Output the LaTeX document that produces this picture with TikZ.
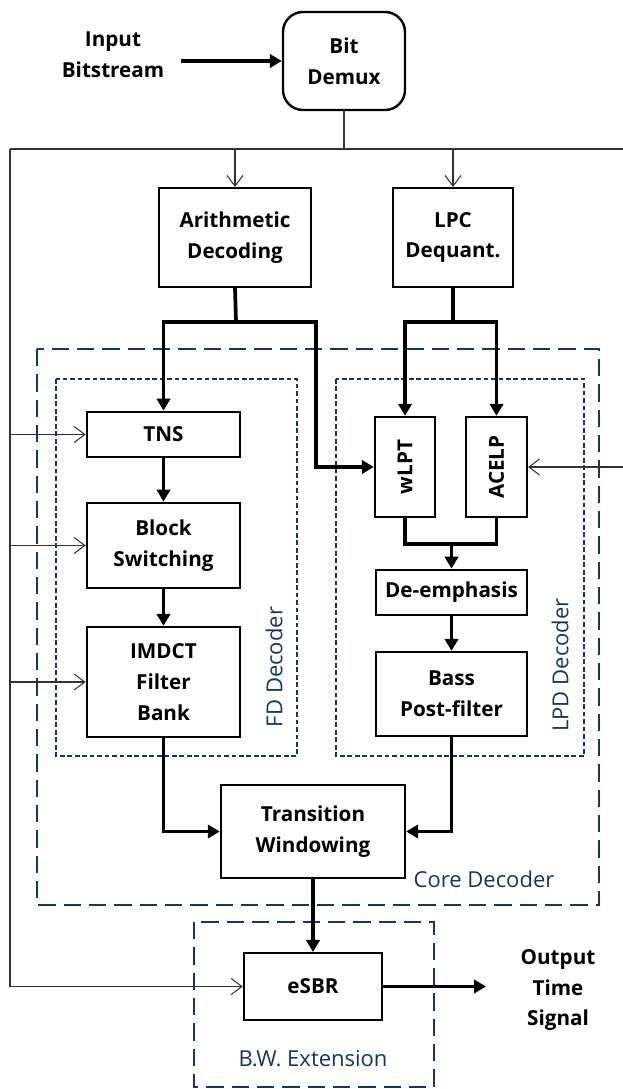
\documentclass[tikz,border=0pt]{standalone}
\usepackage{fontspec}
\setmainfont{Open Sans}
\usetikzlibrary{positioning,arrows.meta,calc}

\definecolor{grpblue}{RGB}{24,52,96}

\begin{document}
\begin{tikzpicture}[
    x=0.75pt, y=-0.75pt,
    font=\fontsize{15.5}{23}\selectfont,
    box/.style={
        draw=black,
        line width=1.8pt,
        align=center,
        inner sep=2pt,
        font=\fontsize{15.5}{23}\selectfont\bfseries
    },
    sidebox/.style={
        box,
        rotate=90
    },
    textlabel/.style={
        align=center,
        font=\fontsize{15.5}{23}\selectfont\bfseries
    },
    bigline/.style={
        line width=2.8pt,
        line join=miter
    },
    bigarrow/.style={
        bigline,
        -{Triangle[length=9pt,width=10pt]}
    },
    thinline/.style={
        draw=black!80,
        line width=0.8pt
    },
    thinarrow/.style={
        thinline,
        -{Straight Barb[length=8pt,width=12pt,line width=0.8pt]}
    },
    group/.style={
        draw=grpblue,
        line width=1.5pt,
        dash pattern=on 13pt off 6pt
    },
    subgroup/.style={
        draw=grpblue,
        line width=1.3pt,
        dash pattern=on 3.6pt off 2pt
    },
    grouplabel/.style={
        text=grpblue,
        font=\fontsize{16.5}{23}\selectfont
    }
]
\useasboundingbox (0,0) rectangle (623,1089);

% Input side
\node[textlabel] (input) at (113,55) {Input\\Bitstream};
\node[box, rounded corners=15pt, minimum width=91.5pt, minimum height=73.5pt] (demux) at (344,61) {Bit\\Demux};
\coordinate (instart) at (181,61);

% Entropy and LPC decoding
\node[box, minimum width=114pt, minimum height=74pt] (arith) at (235,237.5) {Arithmetic\\Decoding};
\node[box, minimum width=90pt, minimum height=74pt] (lpc) at (453,237.5) {LPC\\Dequant.};

% FD decoder
\node[box, minimum width=115pt, minimum height=34pt] (tns) at (163.5,434.5) {TNS};
\node[box, minimum width=115pt, minimum height=64pt] (block) at (163.5,545.5) {Block\\Switching};
\node[box, minimum width=115pt, minimum height=82.5pt] (imdct) at (163.5,682) {IMDCT\\Filter\\Bank};

% LPD decoder
\node[sidebox, minimum width=75pt, minimum height=45pt] (wlpt) at (405,467) {wLPT};
\node[sidebox, minimum width=75pt, minimum height=45.5pt] (acelp) at (496.5,467) {ACELP};
\node[box, minimum width=113pt, minimum height=34pt] (deemph) at (451.5,592.5) {De-emphasis};
\node[box, minimum width=113pt, minimum height=63pt] (bass) at (451.5,694) {Bass\\Post-filter};

% Output side
\node[box, minimum width=138pt, minimum height=70pt] (trans) at (313,831.5) {Transition\\Windowing};
\node[box, minimum width=103.5pt, minimum height=50pt] (esbr) at (313,986.5) {eSBR};
\node[textlabel] (output) at (558,990) {Output\\Time\\Signal};
\coordinate (outend) at (486,986.5);

% Side information bus
\coordinate (busL) at (10,149);
\coordinate (busR) at (623,149);
\coordinate (acelpin) at (623,467);

% Group boxes
\draw[group] (37,349) rectangle (599,905);
\draw[subgroup] (56,379) rectangle (297,756);
\draw[subgroup] (336,379) rectangle (584,756);
\draw[group] (194,922) rectangle (434,1087);
\node[grouplabel, rotate=90] (fdlabel) at (274,667) {FD Decoder};
\node[grouplabel, rotate=90] (lpdlabel) at (560,665) {LPD Decoder};
\node[grouplabel] (corelabel) at (484,879) {Core Decoder};
\node[grouplabel] (bwlabel) at (313,1059) {B.W. Extension};

% Connectors
\draw[bigarrow] (instart) -- (demux.west);

\draw[thinline] (demux.south) -- (demux.south |- busL);
\draw[thinline] (busL) -- (busR);
\draw[thinarrow] (busL -| arith.north) -- (arith.north);
\draw[thinarrow] (busL -| lpc.north) -- (lpc.north);
\draw[thinline] (busL) -- (busL |- esbr.west);
\draw[thinarrow] (busL |- tns.west) -- (tns.west);
\draw[thinarrow] (busL |- block.west) -- (block.west);
\draw[thinarrow] (busL |- imdct.west) -- (imdct.west);
\draw[thinarrow] (busL |- esbr.west) -- (esbr.west);
\draw[thinarrow] (acelpin) -- (acelp.south);

\coordinate (asplit) at (236,322);
\draw[bigline] (arith.south) -- (asplit);
\draw[bigarrow] (asplit) -| (tns.north);
\draw[bigarrow] (asplit) -- ++(80,0) |- (wlpt.north);

\coordinate (lsplit) at (453,322);
\draw[bigline] (lpc.south) -- (lsplit);
\draw[bigarrow] (lsplit) -| (wlpt.east);
\draw[bigarrow] (lsplit) -| (acelp.east);

\draw[bigline] (wlpt.west) -- ++(0,26) -| (acelp.west);
\draw[bigarrow] (wlpt.west) ++(0,26) -| (deemph.north);

\draw[bigarrow] (tns) -- (block);
\draw[bigarrow] (block) -- (imdct);
\draw[bigarrow] (deemph) -- (bass);

\draw[bigarrow] (imdct.south) |- (trans.west);
\draw[bigarrow] (bass.south) |- (trans.east);
\draw[bigarrow] (trans) -- (esbr);
\draw[bigarrow] (esbr.east) -- (outend);

\end{tikzpicture}
\end{document}
